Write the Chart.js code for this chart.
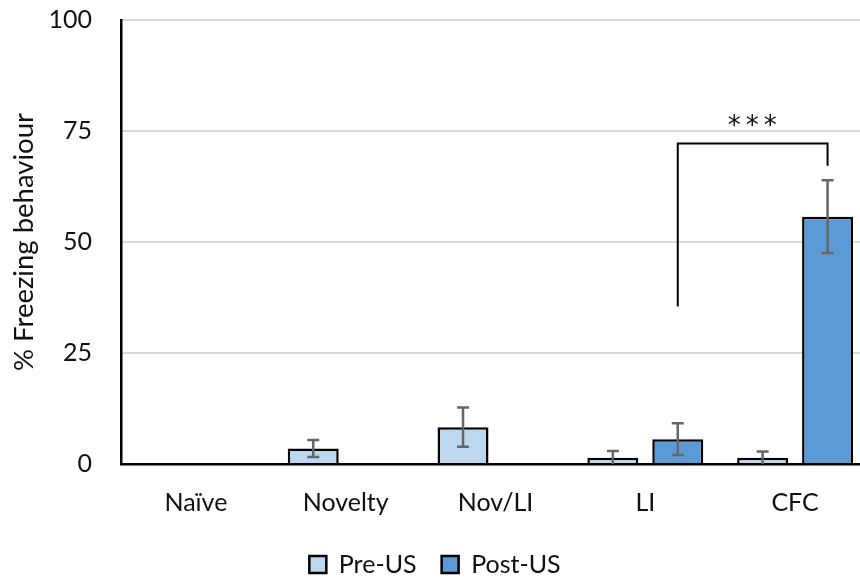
<!DOCTYPE html>
<html>
<head>
<meta charset="utf-8">
<script src="https://cdn.jsdelivr.net/npm/chart.js@4.4.1/dist/chart.umd.min.js"></script>
<style>
  html, body { margin: 0; padding: 0; background: #fff; overflow: hidden; }
  #wrap { width: 880px; height: 579px; }
</style>
</head>
<body>
<div id="wrap"><canvas id="c" width="880" height="579"></canvas></div>
<script>
// Groups and freezing scores (mean ± SEM, % of time)
const groups   = ['Naïve', 'Novelty', 'Nov/LI', 'LI', 'CFC'];
const preUS    = [0, 3.5, 8.3, 1.4, 1.4];
const preErr   = [0, 1.9, 4.4, 1.5, 1.4];
const postUS   = [0, 0, 0, 5.6, 55.7];
const postErr  = [0, 0, 0, 3.6, 8.2];
const yTicks   = [0, 25, 50, 75, 100];

// Significance bracket between LI and CFC post-US bars
const sigFrom    = 'LI';
const sigTo      = 'CFC';
const sigLevel   = 72.2;
const sigFromEnd = 35.5;
const sigToEnd   = 67.2;
const sigLabel   = '***';
const sigLabelY  = 77;

const FONT = 'Lato, "Open Sans", sans-serif';
const CANVAS_H = 579;
const PLOT_TOP = 20;
const PLOT_BOTTOM = 464;
const PAD_BOTTOM = -8;

const errorBars = {
  id: 'errorBars',
  afterDatasetsDraw(chart) {
    const { ctx, chartArea, scales: { y } } = chart;
    const errs = [preErr, postErr];
    ctx.save();
    ctx.beginPath();
    ctx.rect(chartArea.left, chartArea.top, chartArea.right - chartArea.left, chartArea.bottom - chartArea.top);
    ctx.clip();
    ctx.strokeStyle = '#666666';
    ctx.lineWidth = 2.5;
    ctx.lineCap = 'butt';
    chart.data.datasets.forEach((ds, di) => {
      const meta = chart.getDatasetMeta(di);
      meta.data.forEach((bar, i) => {
        const v = ds.data[i], e = errs[di][i];
        if (!e) return;
        const x = bar.x;
        const lo = Math.max(0, v - e);
        const yTop = y.getPixelForValue(v + e);
        const yBot = y.getPixelForValue(lo);
        const cap = 6;
        ctx.beginPath();
        ctx.moveTo(x, yTop); ctx.lineTo(x, yBot);
        ctx.moveTo(x - cap, yTop); ctx.lineTo(x + cap, yTop);
        if (v - e > 0) { ctx.moveTo(x - cap, yBot); ctx.lineTo(x + cap, yBot); }
        ctx.stroke();
      });
    });
    ctx.restore();
  }
};

const sigBracket = {
  id: 'sigBracket',
  afterDatasetsDraw(chart) {
    const { ctx, scales: { y } } = chart;
    const meta = chart.getDatasetMeta(1);
    const x1 = meta.data[groups.indexOf(sigFrom)].x;
    const x2 = meta.data[groups.indexOf(sigTo)].x;
    ctx.save();
    ctx.strokeStyle = '#000';
    ctx.lineWidth = 2;
    ctx.lineJoin = 'miter';
    ctx.beginPath();
    ctx.moveTo(x1, y.getPixelForValue(sigFromEnd));
    ctx.lineTo(x1, y.getPixelForValue(sigLevel));
    ctx.lineTo(x2, y.getPixelForValue(sigLevel));
    ctx.lineTo(x2, y.getPixelForValue(sigToEnd));
    ctx.stroke();
    ctx.fillStyle = '#111';
    ctx.font = '26px "DejaVu Sans", sans-serif';
    ctx.textAlign = 'center';
    ctx.textBaseline = 'alphabetic';
    if ('letterSpacing' in ctx) ctx.letterSpacing = '5px';
    ctx.fillText(sigLabel, (x1 + x2) / 2 + 2, y.getPixelForValue(sigLabelY) + 12);
    ctx.restore();
  }
};

new Chart(document.getElementById('c'), {
  type: 'bar',
  data: {
    labels: groups,
    datasets: [
      { label: 'Pre-US', data: preUS, backgroundColor: '#BDD7EE', borderColor: '#000', borderWidth: 2.5, borderSkipped: 'start' },
      { label: 'Post-US', data: postUS, backgroundColor: '#5B9BD5', borderColor: '#000', borderWidth: 2.5, borderSkipped: 'start' }
    ]
  },
  options: {
    responsive: false,
    animation: false,
    categoryPercentage: 0.867,
    barPercentage: 0.785,
    layout: { padding: { left: 0, right: 10, top: PLOT_TOP, bottom: PAD_BOTTOM } },
    plugins: {
      tooltip: { enabled: false },
      legend: {
        position: 'bottom',
        labels: {
          font: { family: FONT, size: 25 },
          color: '#111',
          boxWidth: 17,
          boxHeight: 17,
          padding: 25
        }
      }
    },
    scales: {
      x: {
        grid: { display: false, drawTicks: false },
        border: { display: true, color: '#000', width: 2.5 },
        ticks: { font: { family: FONT, size: 25 }, color: '#111', padding: 24 },
        afterFit(s) {
          const lg = s.chart.legend;
          s.height = CANVAS_H - PAD_BOTTOM - (lg ? lg.height : 0) - PLOT_BOTTOM;
          s.paddingLeft = 0; s.paddingRight = 0;
        }
      },
      y: {
        min: 0, max: 100,
        afterBuildTicks(s) { s.ticks = yTicks.map(v => ({ value: v })); },
        grid: { color: '#D9D9D9', lineWidth: 2, drawTicks: false },
        border: { display: true, color: '#000', width: 2.5 },
        ticks: { font: { family: FONT, size: 25 }, color: '#111', padding: 29 },
        title: {
          display: true,
          text: '% Freezing behaviour',
          font: { family: FONT, size: 27.5 },
          color: '#111',
          padding: { top: 8, bottom: 0 }
        },
        afterFit(s) { s.width = 121; s.paddingTop = 0; s.paddingBottom = 0; }
      }
    }
  },
  plugins: [errorBars, sigBracket]
});
</script>
</body>
</html>
